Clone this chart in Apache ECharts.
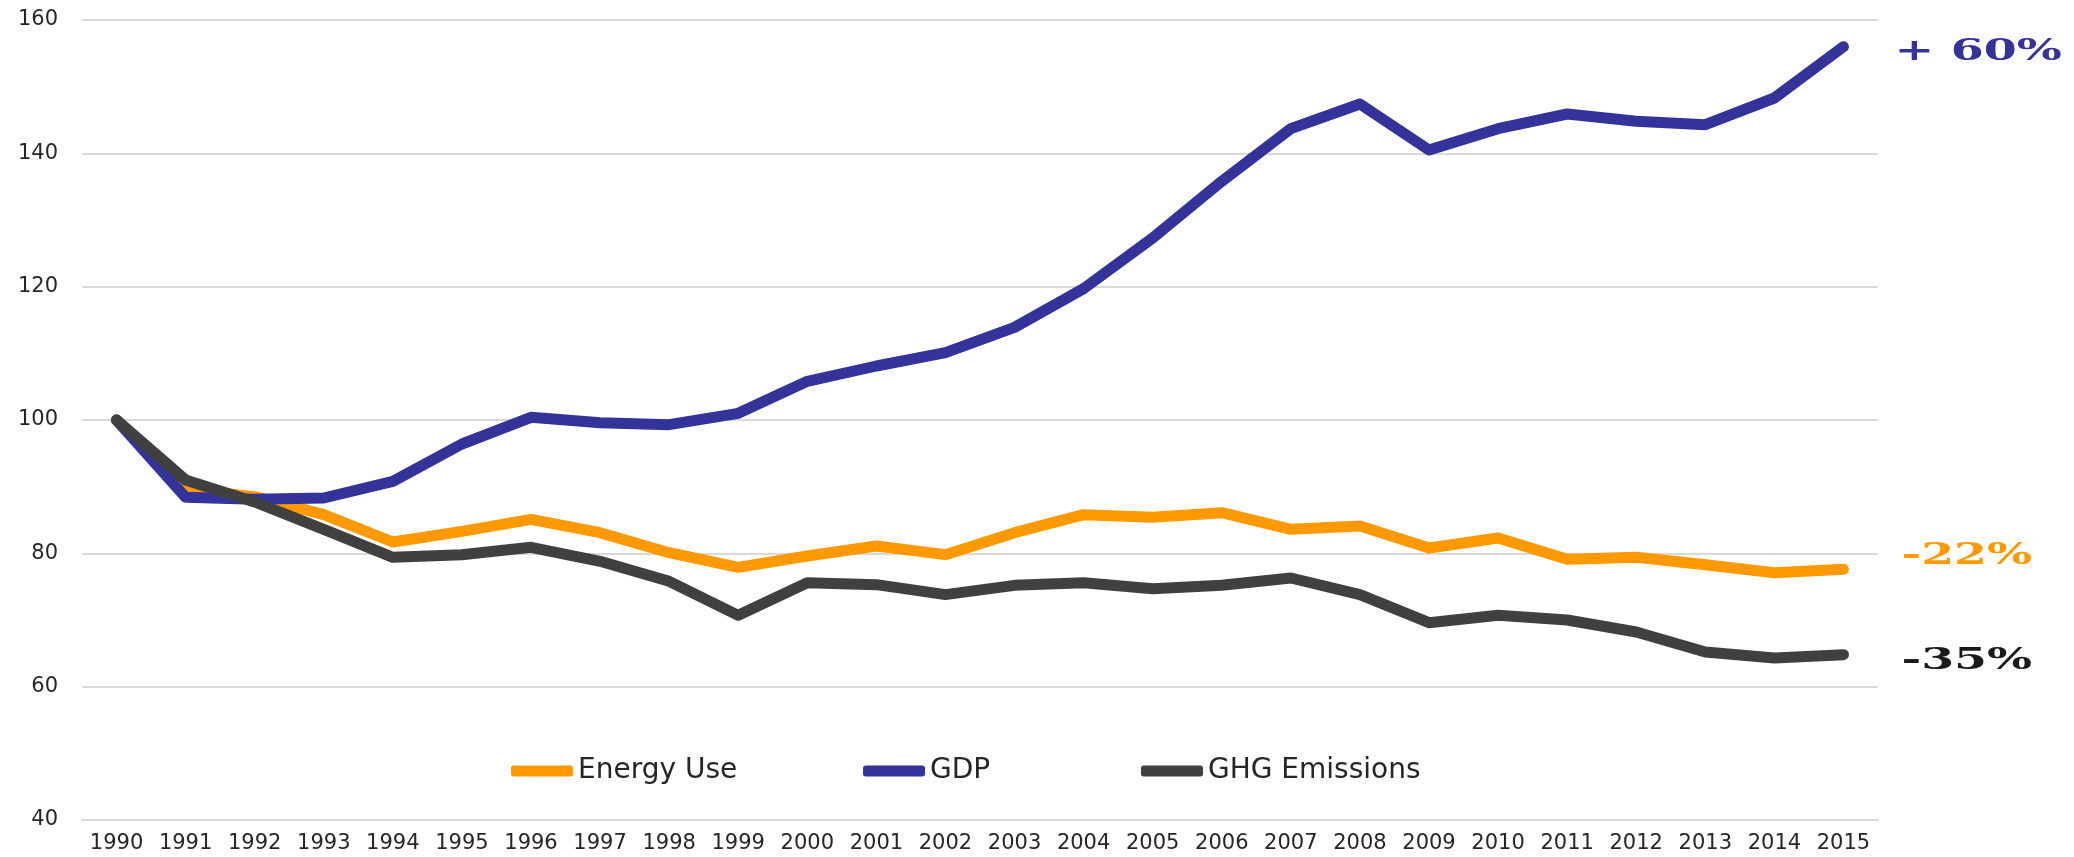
<!DOCTYPE html>
<html>
<head>
<meta charset="utf-8">
<title>Energy Use, GDP and GHG Emissions</title>
<script src="https://cdn.jsdelivr.net/npm/echarts@6/dist/echarts.min.js"></script>
<style>
  html, body { margin: 0; padding: 0; background: #fff; }
  #chart { width: 2074px; height: 857px; }
</style>
</head>
<body>
<div id="chart"></div>
<script>
// index, 1990 = 100
const years = ['1990', '1991', '1992', '1993', '1994', '1995', '1996', '1997', '1998', '1999',
  '2000', '2001', '2002', '2003', '2004', '2005', '2006', '2007', '2008', '2009',
  '2010', '2011', '2012', '2013', '2014', '2015']
const energyUse = [100, 89.6, 88.5, 85.8, 81.7, 83.3, 85.1, 83.1, 80.1, 77.9,
  79.6, 81.1, 79.8, 83.1, 85.8, 85.4, 86.1, 83.6, 84.1, 80.8,
  82.3, 79.1, 79.4, 78.3, 77.1, 77.6]
const gdp = [100, 88.4, 88.1, 88.3, 90.8, 96.4, 100.4, 99.6, 99.3, 101.0,
  105.8, 108.1, 110.1, 113.9, 119.7, 127.3, 135.8, 143.7, 147.4, 140.5,
  143.7, 145.9, 144.8, 144.3, 148.3, 156.0]
const ghgEmissions = [100, 91.0, 87.7, 83.6, 79.4, 79.8, 80.9, 78.8, 75.8, 70.7,
  75.6, 75.3, 73.8, 75.2, 75.6, 74.7, 75.2, 76.3, 73.8, 69.6,
  70.7, 70.0, 68.2, 65.2, 64.3, 64.8]
const yMin = 40
const yMax = 160
const yStep = 20
const changeGdp = '+ 60%'
const changeEnergy = '-22%'
const changeGhg = '-35%'

const colors = { energy: '#ff9900', gdp: '#333399', ghg: '#404040' }
const axisFont = { fontFamily: 'DejaVu Sans', fontSize: 21, color: '#262626' }

const lineSeries = (name, data, color) => ({
  name,
  type: 'line',
  data,
  symbol: 'none',
  lineStyle: { color, width: 11, cap: 'round', join: 'round' },
  itemStyle: { color }
})

// one legend per item so each sits where the original one does
const legendItem = (name, left) => ({
  data: [name],
  left,
  top: 752,
  itemWidth: 62,
  itemHeight: 11,
  icon: 'roundRect',
  textStyle: { fontFamily: 'DejaVu Sans', fontSize: 28, color: '#262626' }
})

const chart = echarts.init(document.getElementById('chart'))
chart.setOption({
  animation: false,
  grid: { left: 82, right: 196, top: 20, bottom: 37 },
  legend: [
    legendItem('Energy Use', 506),
    legendItem('GDP', 858),
    legendItem('GHG Emissions', 1136)
  ],
  xAxis: {
    type: 'category',
    data: years,
    axisLine: { lineStyle: { color: '#d9d9d9', width: 2 } },
    axisTick: { length: 6, lineStyle: { color: '#d9d9d9', width: 2 } },
    axisLabel: { ...axisFont, margin: 13, interval: 0, hideOverlap: false }
  },
  yAxis: {
    type: 'value',
    min: yMin,
    max: yMax,
    interval: yStep,
    axisLine: { show: false },
    axisTick: { show: false },
    axisLabel: { ...axisFont, margin: 24 },
    splitLine: { lineStyle: { color: '#d9d9d9', width: 2 } }
  },
  series: [
    lineSeries('Energy Use', energyUse, colors.energy),
    lineSeries('GDP', gdp, colors.gdp),
    lineSeries('GHG Emissions', ghgEmissions, colors.ghg)
  ]
})

// change labels next to the last point of each line
const last = years.length - 1
const notes = [
  { data: gdp, text: changeGdp, color: colors.gdp, dx: 51, dy: 6 },
  { data: energyUse, text: changeEnergy, color: colors.energy, dx: 58, dy: -13 },
  { data: ghgEmissions, text: changeGhg, color: '#1a1a1a', dx: 58, dy: 7 }
]
chart.setOption({
  graphic: notes.map(n => {
    const [px, py] = chart.convertToPixel({ gridIndex: 0 }, [years[last], n.data[last]])
    return {
      type: 'text',
      x: px + n.dx,
      y: py + n.dy,
      scaleX: 1.58,
      style: {
        text: n.text,
        fill: n.color,
        font: 'bold 30px "DejaVu Serif"',
        verticalAlign: 'middle'
      }
    }
  })
})

window.addEventListener('resize', () => chart.resize())
</script>
</body>
</html>
